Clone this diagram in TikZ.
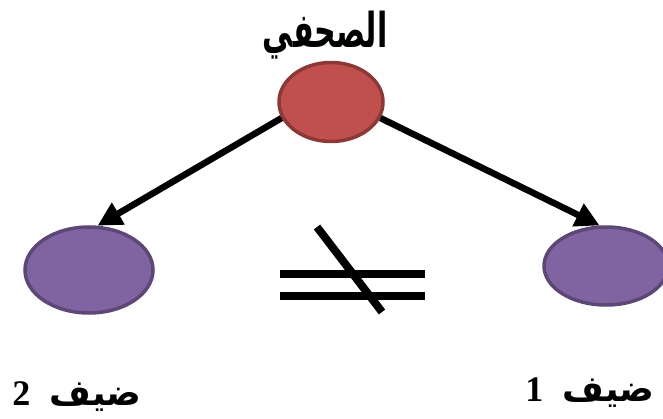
\documentclass[tikz,border=0pt]{standalone}
\usepackage{fontspec}
\setmainfont{Liberation Serif}
\newfontfamily\arabicfont[Script=Arabic]{DejaVu Sans}
\TeXXeTstate=1
\usetikzlibrary{arrows.meta,positioning,shapes.geometric}

\definecolor{redfill}{RGB}{192,80,77}
\definecolor{redline}{RGB}{140,56,54}
\definecolor{purplefill}{RGB}{128,100,162}
\definecolor{purpleline}{RGB}{92,71,118}

\begin{document}
\begin{tikzpicture}[
    x=1pt, y=-1pt,
    node distance=10pt,
    person/.style={ellipse, line width=3.5pt, inner sep=0pt},
    journo/.style={person, draw=redline, fill=redfill, minimum width=104pt, minimum height=79pt},
    guest/.style={person, draw=purpleline, fill=purplefill, minimum width=128pt, minimum height=86pt},
    arlabel/.style={font=\fontsize{36}{40}\selectfont\bfseries, inner sep=0pt},
    arrow/.style={-{Triangle[length=24pt, width=24pt]}, line width=6.5pt},
    bar/.style={line width=8pt}
]
\clip (0,0) rectangle (663,419);

% Journalist and the two guests
\node[journo] (journo) at (331,102) {};
\node[guest] (guestTwo) at (89,270) {};
\node[guest, minimum width=124pt, minimum height=78pt] (guestOne) at (606,266) {};

% Labels
\node[arlabel, font=\fontsize{30}{34}\selectfont\bfseries, above=1pt of journo, xshift=-6pt] (journoText)
    {\scalebox{1}[1.6]{\arabicfont\beginR الصحفي\endR}};
\node[arlabel, below=67pt of guestTwo, xshift=-12pt] (guestTwoText) {\beginR{\arabicfont ضيف}\hspace{10pt} 2\endR};
\node[arlabel, below=71pt of guestOne, xshift=-16pt] (guestOneText) {\beginR{\arabicfont ضيف}\hspace{10pt} 1\endR};

% Arrows from journalist to guests
\draw[arrow] (journo.198) -- (guestTwo.79);
\draw[arrow] (journo.342) -- (guestOne.99);

% Not equal sign
\coordinate (neq) at (352,285);
\draw[bar] ([shift={(-72,-11)}]neq) -- ([shift={(73,-11)}]neq);
\draw[bar] ([shift={(-72,11)}]neq) -- ([shift={(73,11)}]neq);
\draw[bar] ([shift={(-35,-58)}]neq) -- ([shift={(30,27)}]neq);

\end{tikzpicture}
\end{document}
